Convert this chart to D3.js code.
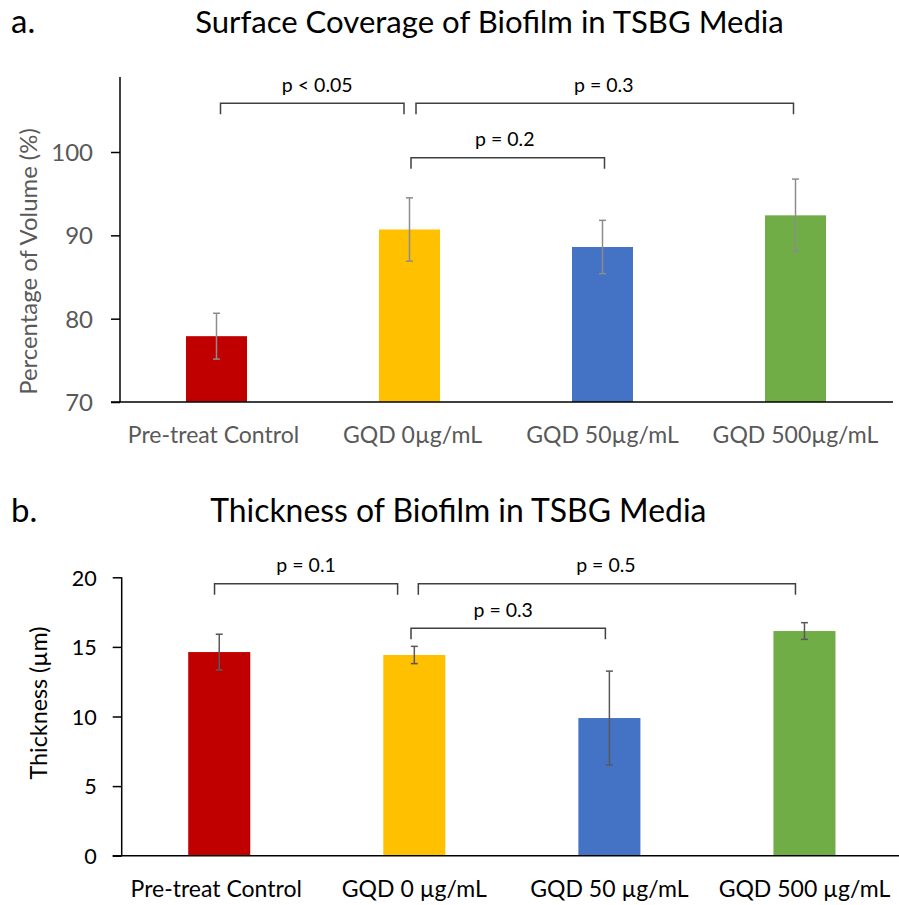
<!DOCTYPE html>
<html><head><meta charset="utf-8">
<script src="https://cdn.jsdelivr.net/npm/d3@7"></script>
<style>body{margin:0;background:#fff} text{font-family:Lato,"Open Sans",sans-serif}</style>
</head><body>
<svg id="c" width="899" height="905"></svg>
<script>
// ---------- data ----------
const categoriesA = ["Pre-treat Control", "GQD 0µg/mL", "GQD 50µg/mL", "GQD 500µg/mL"];
const coverageValues = [77.9, 90.7, 88.6, 92.4];
const coverageErrors = [2.75, 3.8, 3.2, 4.35];
const coverageTicks = [70, 80, 90, 100];
const coverageBrackets = [
  {from: 0, to: 1, label: "p < 0.05", level: 105.85},
  {from: 1, to: 3, label: "p = 0.3", level: 105.85},
  {from: 1, to: 2, label: "p = 0.2", level: 99.3}
];

const categoriesB = ["Pre-treat Control", "GQD 0 µg/mL", "GQD 50 µg/mL", "GQD 500 µg/mL"];
const thicknessValues = [14.63, 14.42, 9.89, 16.14];
const thicknessErrors = [1.28, 0.62, 3.37, 0.6];
const thicknessTicks = [0, 5, 10, 15, 20];
const thicknessBrackets = [
  {from: 0, to: 1, label: "p = 0.1", level: 19.54},
  {from: 1, to: 3, label: "p = 0.5", level: 19.54},
  {from: 1, to: 2, label: "p = 0.3", level: 16.34}
];

const barColors = ["#C00000", "#FFC000", "#4472C4", "#70AD47"];

// ---------- drawing ----------
const svg = d3.select("#c");

function drawChart(cfg) {
  const g = svg.append("g");
  const x = d3.scaleBand().domain(cfg.categories).range(cfg.xRange)
    .paddingInner(cfg.padInner).paddingOuter(cfg.padInner / 2);
  const y = d3.scaleLinear().domain(cfg.yDomain).range(cfg.yRange);

  // panel letter and title
  g.append("text").attr("x", 11).attr("y", cfg.titleY).style("font-size", "33px").attr("fill", "#000").text(cfg.letter);
  g.append("text").attr("x", cfg.titleX).attr("y", cfg.titleY).attr("text-anchor", "middle")
    .style("font-size", cfg.titleSize + "px").attr("fill", "#000").text(cfg.title);

  // bars
  g.selectAll("rect.bar").data(cfg.values).join("rect").attr("class", "bar")
    .attr("x", (d, i) => x(cfg.categories[i]))
    .attr("width", x.bandwidth())
    .attr("y", d => y(d))
    .attr("height", d => y(cfg.yDomain[0]) - y(d))
    .attr("fill", (d, i) => barColors[i]);

  // error bars
  const cx = i => x(cfg.categories[i]) + x.bandwidth() / 2;
  const eg = g.append("g").attr("stroke", cfg.errColor).attr("stroke-width", 1.5);
  cfg.values.forEach((v, i) => {
    const e = cfg.errors[i];
    eg.append("line").attr("x1", cx(i)).attr("x2", cx(i)).attr("y1", y(v + e)).attr("y2", y(v - e));
    [v + e, v - e].forEach(t => eg.append("line").attr("x1", cx(i) - 3.5).attr("x2", cx(i) + 3.5).attr("y1", y(t)).attr("y2", y(t)));
  });

  // y axis
  const ya = d3.axisLeft(y).tickValues(cfg.ticks).tickSize(9).tickPadding(cfg.tickPad).tickFormat(d3.format("d"));
  const yg = g.append("g").attr("transform", `translate(${cfg.xRange[0]},0)`).call(ya);
  yg.select(".domain").remove();
  yg.selectAll(".tick line").attr("stroke", "#000").attr("stroke-width", 1.5);
  yg.selectAll(".tick text").style("font-size", cfg.tickSize + "px").attr("fill", cfg.textColor)
    .style("font-family", "Lato").attr("dy", "0.36em");
  g.append("line").attr("x1", cfg.xRange[0]).attr("x2", cfg.xRange[0])
    .attr("y1", y(cfg.yDomain[1])).attr("y2", y(cfg.yDomain[0])).attr("stroke", "#000").attr("stroke-width", 1.5);
  // x axis line
  g.append("line").attr("x1", cfg.xRange[0] - 9).attr("x2", cfg.xAxisEnd)
    .attr("y1", y(cfg.yDomain[0])).attr("y2", y(cfg.yDomain[0])).attr("stroke", "#000").attr("stroke-width", 1.5);

  // x labels
  g.selectAll("text.xl").data(cfg.categories).join("text").attr("class", "xl")
    .attr("x", (d, i) => cx(i) + cfg.xLabelShift[i]).attr("y", cfg.xLabelY).attr("text-anchor", "middle")
    .style("font-size", cfg.xLabelSize + "px").attr("fill", cfg.textColor).text(d => d);

  // y label
  g.append("text").attr("transform", `translate(${cfg.yLabelX},${cfg.yLabelY}) rotate(-90)`)
    .attr("text-anchor", "middle").style("font-size", cfg.yLabelSize + "px").attr("fill", cfg.textColor).text(cfg.yLabel);

  // significance brackets
  const bg = g.append("g");
  cfg.brackets.forEach((b, k) => {
    const off = cfg.bracketOffsets[k];
    const x1 = cx(b.from) + off[0], x2 = cx(b.to) + off[1];
    const yy = y(b.level);
    bg.append("path").attr("d", `M${x1},${yy + 11}V${yy}H${x2}V${yy + 11}`)
      .attr("fill", "none").attr("stroke", "#404040").attr("stroke-width", 1.5);
    bg.append("text").attr("x", (x1 + x2) / 2 + off[2]).attr("y", yy - 11.5).attr("text-anchor", "middle")
      .style("font-size", "19.5px").attr("fill", "#000").text(b.label);
  });
}

drawChart({
  categories: categoriesA, values: coverageValues, errors: coverageErrors, ticks: coverageTicks,
  brackets: coverageBrackets,
  bracketOffsets: [[4, -5.5, 5], [6.5, -2, -1], [1.5, 2, -3]],
  xRange: [120, 892], padInner: 0.684, xAxisEnd: 893,
  yDomain: [70, 109], yRange: [402, 77],
  letter: "a.", title: "Surface Coverage of Biofilm in TSBG Media", titleX: 489.5, titleY: 33, titleSize: 31.1,
  errColor: "#8c8c8c", textColor: "#595959", tickSize: 24, tickPad: 18,
  xLabelY: 443, xLabelSize: 23, xLabelShift: [-3, 3, 0, 0],
  yLabel: "Percentage of Volume (%)", yLabelX: 37, yLabelY: 261.5, yLabelSize: 23.9
});

drawChart({
  categories: categoriesB, values: thicknessValues, errors: thicknessErrors, ticks: thicknessTicks,
  brackets: thicknessBrackets,
  bracketOffsets: [[-4.7, -16.7, 0], [4, -9, -1], [-3.3, -4, -5]],
  xRange: [121.7, 902], padInner: 0.682, xAxisEnd: 899,
  yDomain: [0, 20], yRange: [855.7, 577.3],
  letter: "b.", title: "Thickness of Biofilm in TSBG Media", titleX: 458.3, titleY: 521.7, titleSize: 31.9,
  errColor: "#595959", textColor: "#000", tickSize: 21.6, tickPad: 16,
  xLabelY: 896.7, xLabelSize: 23, xLabelShift: [-3, 0, 0, 0],
  yLabel: "Thickness (µm)", yLabelX: 46.5, yLabelY: 703, yLabelSize: 23.3
});
</script>
</body></html>
